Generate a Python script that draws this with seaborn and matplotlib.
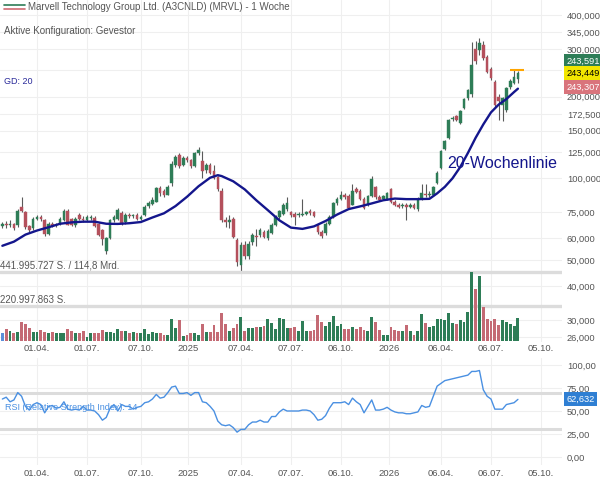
import numpy as np
import pandas as pd
import matplotlib
matplotlib.use("Agg")
import matplotlib.pyplot as plt
import matplotlib.dates as mdates
import matplotlib.transforms as mtransforms
from matplotlib.lines import Line2D
from matplotlib.ticker import FixedLocator, NullLocator, NullFormatter
import seaborn as sns

# Weekly candles Marvell Technology (A3CNLD), EUR, first week starts 29.01.2024
start_week = "2024-01-29"

opens = [66.5, 68.0, 67.0, 68.0, 67.0, 78.5, 75.0, 66.5, 65.5, 71.0,
         72.0, 70.0, 62.5, 68.0, 67.0, 68.0, 70.0, 76.0, 70.5, 67.0,
         73.5, 71.0, 70.0, 71.2, 71.5, 68.0, 64.5, 54.0, 60.0, 70.0,
         70.5, 74.5, 69.0, 73.0, 72.5, 73.5, 71.0, 73.0, 79.0, 80.5,
         82.0, 92.0, 90.0, 87.0, 96.0, 112.0, 122.0, 112.0, 118.5, 116.5,
         111.0, 124.0, 116.0, 107.0, 112.0, 106.0, 101.0, 90.0, 70.0, 69.0,
         71.0, 59.0, 48.0, 57.0, 51.5, 58.0, 61.5, 62.0, 63.5, 60.0,
         63.0, 67.0, 72.0, 74.0, 77.0, 75.0, 74.0, 73.0, 73.5, 74.0,
         76.0, 75.0, 67.0, 63.5, 63.0, 68.0, 72.0, 81.0, 84.0, 86.5,
         86.0, 80.0, 91.0, 90.0, 84.0, 79.5, 86.0, 93.0, 85.0, 84.0,
         84.0, 91.0, 82.0, 80.0, 79.0, 80.0, 78.5, 80.0, 77.0, 84.0,
         87.5, 86.5, 87.0, 96.0, 109.0, 128.0, 141.0, 165.0, 169.0, 160.0,
         182.0, 197.0, 205.0, 300.0, 297.0, 310.0, 280.0, 253.0, 226.0, 200.0,
         186.0, 179.0, 218.0, 225.0, 232.0]
highs = [69.0, 69.5, 70.0, 68.5, 77.0, 85.0, 76.0, 67.5, 72.0, 73.5,
         73.0, 70.5, 69.0, 69.0, 68.5, 72.0, 77.0, 77.0, 71.5, 72.0,
         74.5, 72.5, 73.0, 73.0, 72.5, 68.5, 65.0, 61.0, 71.0, 73.0,
         78.0, 75.5, 74.5, 74.5, 74.0, 74.5, 73.0, 79.5, 82.5, 85.0,
         93.0, 93.5, 91.5, 94.5, 116.0, 122.0, 124.0, 120.5, 121.0, 118.0,
         125.5, 130.0, 126.0, 114.0, 113.5, 112.0, 102.0, 92.0, 72.0, 73.0,
         72.0, 60.0, 58.0, 58.5, 58.5, 63.0, 65.0, 65.5, 64.5, 65.0,
         68.5, 73.0, 76.5, 81.0, 85.0, 76.0, 75.0, 75.0, 84.0, 76.0,
         77.0, 76.0, 68.0, 64.5, 69.0, 73.0, 82.0, 85.0, 90.0, 88.0,
         87.5, 95.0, 92.5, 91.0, 85.0, 87.0, 102.0, 94.0, 86.5, 87.0,
         89.0, 92.0, 83.0, 81.0, 81.0, 81.0, 81.0, 81.0, 85.0, 95.0,
         95.0, 90.0, 94.0, 106.0, 127.0, 138.0, 165.0, 170.0, 171.0, 178.0,
         197.0, 213.0, 318.0, 322.0, 330.0, 320.0, 285.0, 258.0, 230.0, 205.0,
         200.0, 217.0, 232.0, 251.0, 248.0]
lows = [65.5, 65.5, 66.0, 64.5, 66.0, 75.0, 65.0, 63.5, 64.5, 70.0,
        69.5, 61.5, 62.0, 66.0, 66.0, 67.5, 69.5, 67.0, 66.5, 66.0,
        70.0, 69.0, 69.5, 70.0, 66.0, 61.5, 57.0, 52.5, 59.5, 69.0,
        70.0, 67.5, 68.0, 71.5, 71.5, 70.0, 70.0, 72.5, 78.0, 80.0,
        81.5, 86.0, 85.5, 86.5, 94.0, 110.0, 109.0, 111.0, 115.0, 109.5,
        110.0, 122.0, 100.0, 105.0, 104.0, 99.0, 90.0, 69.0, 66.0, 65.5,
        60.0, 47.5, 45.5, 50.5, 50.5, 57.0, 56.5, 61.0, 60.0, 59.0,
        62.5, 66.5, 71.0, 73.5, 76.0, 72.0, 67.0, 72.0, 72.5, 73.0,
        73.5, 72.0, 62.5, 60.0, 62.0, 67.5, 71.5, 80.0, 83.0, 84.0,
        77.0, 79.5, 88.0, 83.0, 77.0, 79.0, 85.0, 84.0, 82.5, 83.0,
        83.0, 81.0, 79.0, 77.5, 78.0, 70.0, 77.5, 77.0, 76.0, 83.0,
        85.5, 85.0, 86.0, 95.0, 108.0, 127.0, 140.0, 162.0, 162.0, 158.0,
        180.0, 195.0, 200.0, 265.0, 285.0, 274.0, 244.0, 230.0, 183.0, 164.0,
        162.0, 175.0, 214.0, 222.0, 225.0]
closes = [68.0, 67.0, 68.0, 65.5, 76.0, 76.0, 66.0, 64.5, 71.0, 71.8,
          70.5, 62.5, 68.0, 66.5, 67.5, 71.0, 76.0, 67.5, 67.5, 71.0,
          70.5, 70.0, 72.0, 71.8, 66.5, 62.0, 59.5, 60.0, 70.0, 72.0,
          76.5, 68.5, 73.5, 72.5, 73.0, 70.5, 72.0, 78.5, 81.0, 83.5,
          92.0, 88.0, 87.0, 93.0, 113.0, 120.0, 111.0, 119.0, 116.5, 111.0,
          124.0, 127.0, 106.0, 112.0, 105.0, 100.0, 91.0, 70.0, 69.0, 70.0,
          61.0, 49.0, 57.0, 51.5, 57.5, 62.0, 61.0, 64.5, 61.0, 64.0,
          67.5, 72.0, 75.5, 80.0, 81.0, 73.0, 72.0, 74.0, 74.0, 75.0,
          74.5, 72.5, 63.5, 61.5, 68.0, 72.0, 81.0, 84.0, 87.0, 85.0,
          78.0, 90.0, 89.0, 84.0, 78.0, 86.0, 99.0, 85.0, 83.5, 86.0,
          88.0, 82.0, 80.0, 78.5, 80.0, 78.5, 80.0, 78.0, 84.0, 88.0,
          86.5, 87.5, 93.0, 105.0, 126.0, 137.0, 164.0, 167.5, 164.0, 177.0,
          196.0, 211.0, 262.0, 270.0, 316.0, 278.0, 247.0, 234.0, 186.0, 193.0,
          198.0, 215.0, 228.0, 236.0, 243.449]

# weekly volume in million shares
volumes_m = [52, 74, 63, 48, 58, 119, 108, 80, 58, 58,
             69, 58, 54, 58, 48, 54, 52, 74, 63, 52,
             52, 63, 26, 54, 54, 52, 69, 58, 58, 54,
             74, 63, 63, 52, 58, 54, 48, 74, 43, 58,
             54, 48, 37, 37, 141, 80, 134, 30, 37, 52,
             48, 41, 106, 58, 58, 102, 58, 178, 108, 63,
             80, 106, 156, 65, 85, 80, 87, 87, 95, 139,
             113, 74, 150, 139, 80, 80, 87, 63, 130, 63,
             63, 69, 167, 124, 95, 124, 163, 95, 106, 76,
             76, 91, 74, 91, 69, 63, 156, 119, 69, 37,
             41, 87, 69, 63, 63, 102, 63, 37, 63, 171,
             117, 87, 95, 141, 141, 134, 178, 117, 106, 134,
             119, 184, 442, 334, 416, 215, 141, 130, 141, 102,
             134, 119, 108, 98, 145]

rsi_values = [63, 65, 60, 62, 70, 66, 55, 51, 57, 59,
              57, 48, 55, 56, 53, 54, 60, 52, 51, 52,
              51, 55, 51, 51, 50, 46, 40, 43, 53, 57,
              50, 57, 55, 55, 52, 54, 55, 59, 60, 63,
              68, 64, 65, 70, 76, 77, 69, 69, 70, 67,
              70, 70, 60, 59, 55, 50, 39, 35, 34, 35,
              32, 27, 30, 30, 35, 38, 38, 40, 38, 38,
              44, 44, 49, 52, 50, 50, 50, 50, 51, 51,
              50, 46, 40, 41, 45, 53, 59, 59, 59, 60,
              57, 64, 60, 57, 48, 55, 62, 51, 51, 52,
              54, 51, 49, 48, 48, 47, 47, 48, 49, 56,
              54, 55, 66, 77, 80, 83, 84, 85, 86, 87,
              88, 89, 93, 93, 94, 73, 66, 63, 52, 52,
              52, 57, 58, 59, 62.632]

# 20-week moving average (GD 20), read at every few weeks
ma_weeks = [0, 3, 6, 9, 12, 15, 18, 21, 24, 27, 30, 33, 36, 39, 42, 45, 48,
            51, 54, 56, 57, 60, 63, 66, 69, 72, 75, 78, 81, 84, 87, 90, 93,
            96, 99, 102, 105, 108, 111, 113, 115, 117, 119, 121, 123, 125,
            127, 129, 131, 133, 134]
ma_values = [56.4, 58.4, 62.0, 64.2, 66.0, 68.0, 68.8, 69.2, 69.2, 68.0, 67.9,
             68.3, 69.0, 71.7, 74.3, 79.0, 85.5, 93.5, 100.5, 102.7, 101.9,
             97.5, 91.0, 83.0, 76.3, 70.0, 65.8, 65.1, 66.5, 69.6, 73.5, 77.0,
             78.8, 80.8, 83.0, 84.2, 83.8, 83.8, 84.0, 88.0, 93.0, 100.0,
             110.0, 124.0, 141.0, 158.0, 175.0, 187.0, 196.0, 208.0, 214.0]

price_ticks = [26, 30, 40, 50, 60, 75, 100, 125, 150, 172.5, 200, 250, 300, 345, 400]
hidden_price_labels = [250]
rsi_ticks = [0, 25, 50, 75, 100]
rsi_bands = [70, 30]
date_ticks = ["2024-04-01", "2024-07-01", "2024-10-07", "2025-01-01", "2025-04-07",
              "2025-07-07", "2025-10-06", "2026-01-01", "2026-04-06", "2026-07-06",
              "2026-10-05"]
date_labels = ["01.04.", "01.07.", "07.10.", "2025", "07.04.", "07.07.", "06.10.",
               "2026", "06.04.", "06.07.", "05.10."]

quote_ask, quote_last, quote_bid = 243.591, 243.449, 243.307
week_high_mark = 250.8
vol_max_m = 441.995727
vol_labels = ["441.995.727 S. / 114,8 Mrd.", "220.997.863 S."]

title = "Marvell Technology Group Ltd. (A3CNLD) (MRVL) - 1 Woche"

GREEN = "#2e7d57"
RED = "#b4505c"
VOL_RED = "#c46a74"
NAVY = "#14168c"
RSI_BLUE = "#4a90e2"
GRID = "#efefef"
BAND = "#dcdcdc"
TXT = "#555555"

sns.set_style("white")
plt.rcParams["font.family"] = ["Liberation Sans", "DejaVu Sans"]

W, H = 600, 480
fig = plt.figure(figsize=(6, 4.8), dpi=100)


def fx(px):
    return px / W


def fy(py):
    return 1 - py / H


ax = fig.add_axes([0, fy(342), fx(562), 342 / H])
ax_r = fig.add_axes([0, fy(465), fx(562), (465 - 358) / H])

dates = pd.date_range(start_week, periods=len(closes), freq="W-MON")
xs = mdates.date2num(dates)
o, hi, lo, c = (np.array(a, dtype=float) for a in (opens, highs, lows, closes))
up = c >= o

ref = mdates.date2num(pd.Timestamp("2024-04-01"))
xlim = (ref - 67.3, ref + 955.2)
tick_x = mdates.date2num(pd.to_datetime(date_ticks))

# --- volume overlay on a twin axis (drawn above the price grid) ---
ax_v = ax.twinx()
vol_col = [GREEN if u else VOL_RED for u in up]
vol_col[0] = "#5b8fd9"
ax_v.bar(xs, volumes_m, width=5.2, color=vol_col, lw=0, zorder=3)
ax_v.axhline(vol_max_m, color=BAND, lw=2.4, zorder=2)
ax_v.axhline(vol_max_m / 2, color=BAND, lw=2.4, zorder=2)
ax_v.set_ylim(-6.4, 2182)
ax_v.set_xlim(xlim)
ax_v.set_yticks([])
ax_v.tick_params(right=False, labelright=False, left=False, labelleft=False)
for s in ax_v.spines.values():
    s.set_visible(False)
vtrans = mtransforms.blended_transform_factory(ax_v.transAxes, ax_v.transData)
ax_v.text(0.0, vol_max_m + 10, vol_labels[0], transform=vtrans, va="bottom",
          ha="left", fontsize=7, color=TXT)
ax_v.text(0.0, vol_max_m / 2 + 10, vol_labels[1], transform=vtrans, va="bottom",
          ha="left", fontsize=7, color=TXT)

# --- price panel (log scale) ---
ax.set_yscale("log")
ax.vlines(xs, lo, hi, color="#5a5a5a", lw=0.8, zorder=3)
body_col = np.where(up, GREEN, RED)
ax.bar(xs, np.maximum(np.abs(c - o), 0.4), bottom=np.minimum(o, c), width=4.8,
       color=body_col, edgecolor=body_col, lw=0.3, zorder=4)

ma_x = xs[ma_weeks]
sns.lineplot(x=ma_x, y=ma_values, ax=ax, color=NAVY, lw=1.7, zorder=5,
             sort=False, estimator=None)

ax.hlines(week_high_mark, xs[-3] - 1, xs[-1] + 11, color="#ffa500", lw=1.5, zorder=6)

ax.set_xlim(xlim)
ax.set_ylim(24.92, 454.3)
ax.yaxis.tick_right()
ax.yaxis.set_label_position("right")
ax.yaxis.set_major_locator(FixedLocator(price_ticks))
ax.yaxis.set_minor_locator(NullLocator())
ax.yaxis.set_minor_formatter(NullFormatter())
ax.set_yticklabels(["" if v in hidden_price_labels else f"{v:.3f}".replace(".", ",")
                    for v in price_ticks])
ax.xaxis.set_major_locator(FixedLocator(tick_x))
ax.set_xticklabels(date_labels)
ax.tick_params(axis="y", which="both", left=False, labelleft=False, right=False,
               labelright=True, length=0, pad=3.5, labelsize=6.7, labelcolor=TXT)
ax.tick_params(axis="x", length=0, pad=1.5, labelsize=6.8, labelcolor=TXT)
ax.grid(True, color=GRID, lw=0.8)
ax.set_axisbelow(True)
ax.set_xlabel("")
ax.set_ylabel("")
for s in ax.spines.values():
    s.set_visible(False)

# quote boxes on the right
ptrans = mtransforms.blended_transform_factory(ax.transAxes, ax.transData)
for val, dy, fc, tc in [(quote_ask, 9.0, GREEN, "white"),
                        (quote_last, 0.0, "#f2e600", "black"),
                        (quote_bid, -10.0, "#d9747c", "white")]:
    ax.annotate(f"{val:.3f}".replace(".", ","), xy=(1.0, quote_last), xycoords=ptrans,
                xytext=(3.0, dy), textcoords="offset points", ha="left", va="center",
                fontsize=6.7, color=tc, annotation_clip=False, zorder=10,
                bbox=dict(boxstyle="square,pad=0.28", fc=fc, ec="none"))

# --- RSI panel ---
sns.lineplot(x=xs, y=rsi_values, ax=ax_r, color=RSI_BLUE, lw=1.0, zorder=4,
             sort=False, estimator=None)
for b in rsi_bands:
    ax_r.axhline(b, color=BAND, lw=2.2, zorder=2)
ax_r.set_xlim(xlim)
ax_r.set_ylim(-8.7, 107.6)
ax_r.yaxis.tick_right()
ax_r.set_yticks(rsi_ticks)
ax_r.set_yticklabels([f"{v:.2f}".replace(".", ",") for v in rsi_ticks])
ax_r.xaxis.set_major_locator(FixedLocator(tick_x))
ax_r.set_xticklabels(date_labels)
ax_r.tick_params(axis="y", length=0, pad=3.5, labelsize=6.7, labelcolor=TXT)
ax_r.tick_params(axis="x", length=0, pad=3.0, labelsize=6.8, labelcolor=TXT)
ax_r.grid(True, color=GRID, lw=0.8)
ax_r.set_axisbelow(True)
ax_r.set_xlabel("")
ax_r.set_ylabel("")
for s in ax_r.spines.values():
    s.set_visible(False)
rtrans = mtransforms.blended_transform_factory(ax_r.transAxes, ax_r.transData)
ax_r.annotate(f"{rsi_values[-1]:.3f}".replace(".", ","), xy=(1.0, rsi_values[-1]),
              xycoords=rtrans, xytext=(3.0, 0), textcoords="offset points",
              ha="left", va="center", fontsize=6.7, color="white",
              annotation_clip=False, zorder=10,
              bbox=dict(boxstyle="square,pad=0.28", fc="#2f7fd3", ec="none"))

# --- header texts ---
fig.add_artist(Line2D([fx(4), fx(25)], [fy(4.5), fy(4.5)], color=GREEN, lw=1.2))
fig.add_artist(Line2D([fx(4), fx(25)], [fy(8.5), fy(8.5)], color="#d06a72", lw=1.2))
fig.text(fx(28), fy(7), title, ha="left", va="center", fontsize=7, color=TXT)
fig.text(fx(4), fy(31), "Aktive Konfiguration: Gevestor", ha="left", va="center",
         fontsize=7, color=TXT)
fig.text(fx(4), fy(81), "GD: 20", ha="left", va="center", fontsize=6.5, color="#2a2a9a")
fig.text(fx(447), fy(163), "20-Wochenlinie", ha="left", va="center", fontsize=11.5,
         color=NAVY)
fig.text(fx(5), fy(408), "RSI (Relative Strength Index): 14", ha="left", va="center",
         fontsize=6.5, color=RSI_BLUE)

fig.savefig("out.png", dpi=100)
